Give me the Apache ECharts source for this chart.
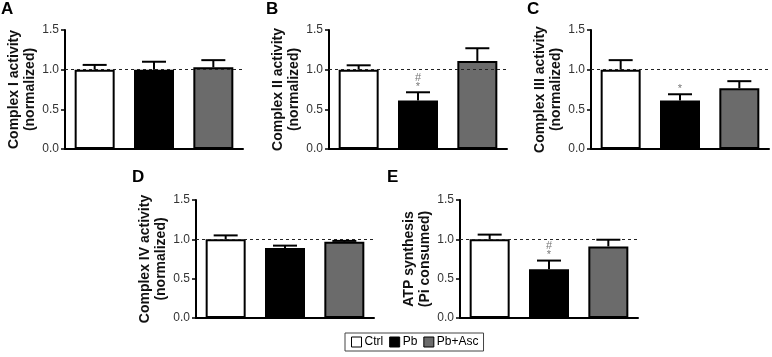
<!DOCTYPE html>
<html>
<head>
<meta charset="utf-8">
<script src="https://cdn.jsdelivr.net/npm/echarts@6/dist/echarts.min.js"></script>
<style>
  html, body { margin: 0; padding: 0; background: #fff; }
  #chart { width: 772px; height: 357px; }
</style>
</head>
<body>
<div id="chart"></div>
<script>
// groups and panels
const groups = ['Ctrl', 'Pb', 'Pb+Asc'];
const groupColors = ['#ffffff', '#000000', '#6b6b6b'];
const panelLetters = ['A', 'B', 'C', 'D', 'E'];
const yTitles = [
  'Complex I activity\n(normalized)',
  'Complex II activity\n(normalized)',
  'Complex III activity\n(normalized)',
  'Complex IV activity\n(normalized)',
  'ATP synthesis\n(Pi consumed)'
];

// means and SEM
const meanA = [1.00, 1.00, 1.03];
const semA = [0.06, 0.10, 0.09];
const meanB = [1.00, 0.61, 1.11];
const semB = [0.055, 0.105, 0.16];
const meanC = [1.00, 0.61, 0.765];
const semC = [0.12, 0.08, 0.09];
const meanD = [1.00, 0.89, 0.97];
const semD = [0.05, 0.03, 0.01];
const meanE = [1.00, 0.62, 0.91];
const semE = [0.06, 0.11, 0.085];

// significance marks (# above *)
const notesA = ['', '', ''];
const notesB = ['', '#\n*', ''];
const notesC = ['', '*', ''];
const notesD = ['', '', ''];
const notesE = ['', '#\n*', ''];

const means = [meanA, meanB, meanC, meanD, meanE];
const sems = [semA, semB, semC, semD, semE];
const notes = [notesA, notesB, notesC, notesD, notesE];

// layout of the five panels
const grids = [
  {left: 65, top: 30, width: 178, height: 119},
  {left: 329, top: 30, width: 178, height: 119},
  {left: 591, top: 30, width: 178, height: 119},
  {left: 196, top: 200, width: 178, height: 118},
  {left: 460, top: 200, width: 178, height: 118}
];
const letterPos = [[1, 1], [266, 1], [527, 1], [132, 169], [387, 169]];

const FONT = 'Liberation Sans, Arial, sans-serif';

const xAxes = [], yAxes = [], series = [], titles = [];

grids.forEach((g, p) => {
  xAxes.push({
    type: 'category', gridIndex: p, data: groups,
    axisLine: {lineStyle: {color: '#000', width: 2}},
    axisTick: {show: false}, axisLabel: {show: false}
  });
  yAxes.push({
    type: 'value', gridIndex: p, min: 0, max: 1.5, interval: 0.5,
    name: yTitles[p], nameLocation: 'middle', nameGap: 27, nameRotate: 90,
    nameTextStyle: {fontFamily: FONT, fontWeight: 'bold', fontSize: 14, color: '#111', lineHeight: 16},
    axisLine: {show: true, lineStyle: {color: '#000', width: 2}},
    axisTick: {show: true, length: 4, lineStyle: {color: '#000', width: 1.5}},
    axisLabel: {fontFamily: FONT, fontSize: 12, color: '#333', margin: 6,
      formatter: v => v.toFixed(1)},
    splitLine: {show: false}
  });
  titles.push({
    text: panelLetters[p], left: letterPos[p][0], top: letterPos[p][1], padding: 0,
    textStyle: {fontFamily: FONT, fontWeight: 'bold', fontSize: 17, color: '#000'}
  });

  groups.forEach((name, k) => {
    const data = groups.map((_, i) => i === k ? means[p][i] : '-');
    const s = {
      name: name, type: 'bar', xAxisIndex: p, yAxisIndex: p,
      data: data, barWidth: 40, barGap: '-100%',
      itemStyle: {color: groupColors[k], borderColor: '#000', borderWidth: 2},
      emphasis: {disabled: true}
    };
    if (k === 2) {
      s.markLine = {
        silent: true, symbol: 'none', label: {show: false},
        lineStyle: {type: [3, 3], color: '#222', width: 1},
        data: [{yAxis: 1}]
      };
    }
    series.push(s);
  });

  series.push({
    type: 'custom', xAxisIndex: p, yAxisIndex: p, z: 5,
    data: groups.map((_, i) => [i, means[p][i], means[p][i] + sems[p][i]]),
    renderItem: (params, api) => {
      const i = api.value(0);
      const p0 = api.coord([i, api.value(1)]);
      const p1 = api.coord([i, api.value(2)]);
      const half = 12;
      const st = {stroke: '#000', lineWidth: 2};
      const children = [
        {type: 'line', shape: {x1: p0[0], y1: p0[1], x2: p1[0], y2: p1[1]}, style: st},
        {type: 'line', shape: {x1: p1[0] - half, y1: p1[1], x2: p1[0] + half, y2: p1[1]}, style: st}
      ];
      const note = notes[p][params.dataIndex];
      if (note) {
        children.push({
          type: 'text',
          style: {
            text: note, x: p1[0], y: p1[1] - 1,
            align: 'center', verticalAlign: 'bottom',
            fontFamily: FONT, fontSize: 11, lineHeight: 9, fill: '#777'
          }
        });
      }
      return {type: 'group', children: children};
    }
  });
});

const chart = echarts.init(document.getElementById('chart'));
chart.setOption({
  animation: false,
  backgroundColor: '#fff',
  title: titles,
  grid: grids,
  xAxis: xAxes,
  yAxis: yAxes,
  legend: {
    data: groups, left: 345, top: 333, icon: 'rect',
    borderColor: '#444', borderWidth: 1, padding: [3, 5, 3, 6],
    itemWidth: 10, itemHeight: 10, itemGap: 6,
    itemStyle: {borderWidth: 1},
    textStyle: {fontFamily: FONT, fontSize: 12, color: '#000', padding: [0, 0, 0, -2]}
  },
  series: series
});
</script>
</body>
</html>
